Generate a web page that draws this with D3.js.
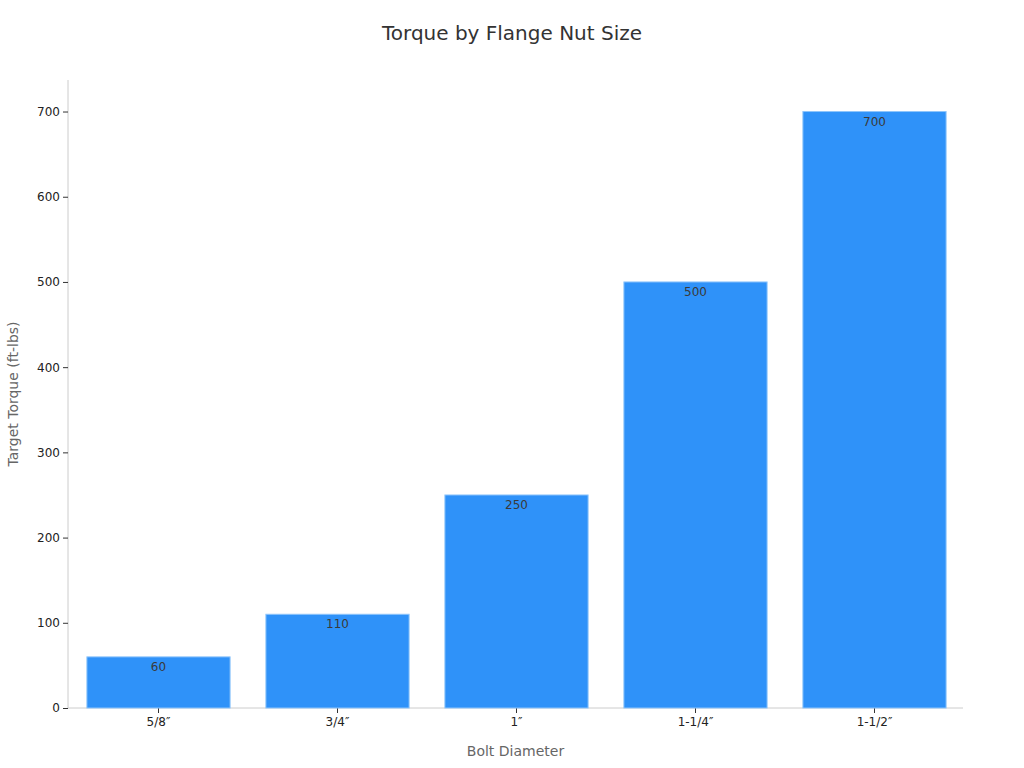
<!DOCTYPE html>
<html>
<head>
<meta charset="utf-8">
<script src="https://cdn.jsdelivr.net/npm/d3@7"></script>
<style>
  body { margin: 0; background: #fff; font-family: "DejaVu Sans", sans-serif; }
  .domain { stroke: #ccc; }
</style>
</head>
<body>
<div id="chart"></div>
<script>
const sizes = ["5/8\u2033", "3/4\u2033", "1\u2033", "1-1/4\u2033", "1-1/2\u2033"];
const torque = [60, 110, 250, 500, 700];
const yTicks = [0, 100, 200, 300, 400, 500, 600, 700];

const W = 1024, H = 768;
const m = {top: 80, right: 61, bottom: 60, left: 68};
const data = sizes.map((s, i) => ({name: s, value: torque[i]}));

const svg = d3.select('#chart').append('svg').attr('width', W).attr('height', H);

const x = d3.scaleBand().domain(sizes).range([m.left + 1, W - m.right + 1]).paddingInner(0.2).paddingOuter(0.1);
const y = d3.scaleLinear().domain([0, 737]).range([H - m.bottom, m.top]);

svg.append('text').attr('x', W / 2).attr('y', 40).attr('text-anchor', 'middle')
  .attr('font-size', 20).attr('fill', '#333').text('Torque by Flange Nut Size');

const yAxis = svg.append('g').attr('transform', `translate(${m.left},0)`)
  .call(d3.axisLeft(y).tickValues(yTicks).tickSize(5).tickPadding(3));
yAxis.selectAll('.tick line').attr('stroke', '#333');
yAxis.selectAll('.tick text').attr('font-size', 12).attr('fill', '#222').attr('font-family', 'DejaVu Sans');
yAxis.select('.domain').attr('d', `M0,${m.top}V${H - m.bottom}`);

const xAxis = svg.append('g').attr('transform', `translate(0,${H - m.bottom})`)
  .call(d3.axisBottom(x).tickSize(5).tickPadding(4));
xAxis.selectAll('.tick line').attr('stroke', '#333');
xAxis.selectAll('.tick text').attr('font-size', 12).attr('fill', '#222').attr('font-family', 'DejaVu Sans');
xAxis.select('.domain').attr('d', `M${m.left},0H${W - m.right}`);

svg.append('g').selectAll('rect').data(data).enter().append('rect')
  .attr('x', d => x(d.name)).attr('width', x.bandwidth())
  .attr('y', d => y(d.value)).attr('height', d => y(0) - y(d.value))
  .attr('fill', '#2f92f9').attr('stroke', '#8fc5fb').attr('stroke-width', 1);

svg.append('g').selectAll('text').data(data).enter().append('text')
  .attr('x', d => x(d.name) + x.bandwidth() / 2).attr('y', d => y(d.value) + 14)
  .attr('text-anchor', 'middle').attr('font-size', 12).attr('fill', '#3a3a3a')
  .text(d => d.value);

svg.append('text').attr('x', (m.left + W - m.right) / 2).attr('y', 756).attr('text-anchor', 'middle')
  .attr('font-size', 14).attr('fill', '#666').text('Bolt Diameter');

svg.append('text').attr('transform', `translate(18,${(m.top + H - m.bottom) / 2}) rotate(-90)`)
  .attr('text-anchor', 'middle').attr('font-size', 14).attr('fill', '#666').text('Target Torque (ft-lbs)');
</script>
</body>
</html>
